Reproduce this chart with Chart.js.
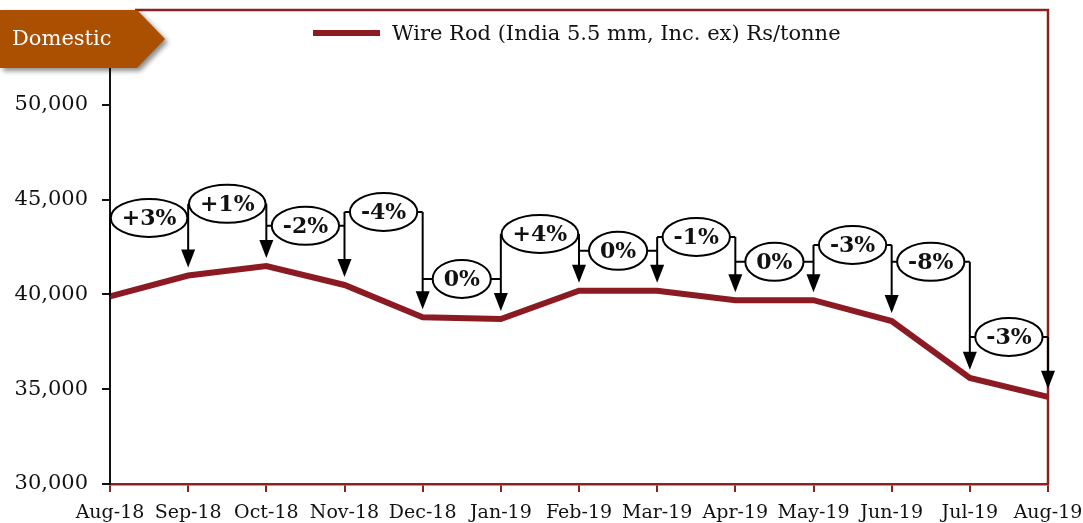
<!DOCTYPE html>
<html>
<head>
    <title>Wire Rod Domestic Prices</title>
    <script src="https://cdn.jsdelivr.net/npm/chart.js"></script>
    <style>
        html, body { margin: 0; padding: 0; background: #fff; }
        #wrap { width: 1083px; height: 523px; }
    </style>
</head>
<body>
    <div id="wrap"><canvas id="myChart"></canvas></div>
    <script>
        const months = ['Aug-18', 'Sep-18', 'Oct-18', 'Nov-18', 'Dec-18', 'Jan-19', 'Feb-19',
                        'Mar-19', 'Apr-19', 'May-19', 'Jun-19', 'Jul-19', 'Aug-19'];
        const wireRod = [39900, 41000, 41500, 40500, 38800, 38700, 40200,
                         40200, 39700, 39700, 38600, 35600, 34600];
        const changeLabels = ['+3%', '+1%', '-2%', '-4%', '0%', '+4%', '0%', '-1%', '0%', '-3%', '-8%', '-3%'];
        // height (in Rs/tonne) at which each change bubble sits
        const bubbleLevels = [44040, 44780, 43620, 44350, 40820, 43190, 42300, 43030, 41720, 42610, 41720, 37760];
        const yTicks = [30000, 35000, 40000, 45000, 50000];

        const lineColor = '#8b1a22';
        const frameColor = '#8b2222';
        const serif = '"DejaVu Serif", Georgia, serif';

        // frame, tab, legend and the change callouts
        const decorations = {
            id: 'decorations',
            beforeDatasetsDraw(chart) {
                const ctx = chart.ctx;
                const x = chart.scales.x, y = chart.scales.y;
                ctx.save();
                ctx.strokeStyle = frameColor;
                ctx.lineWidth = 2.5;
                ctx.beginPath();
                ctx.moveTo(135, 10);
                ctx.lineTo(x.right, 10);
                ctx.lineTo(x.right, y.bottom);
                ctx.stroke();
                ctx.restore();
            },
            afterDatasetsDraw(chart) {
                const ctx = chart.ctx;
                const x = chart.scales.x, y = chart.scales.y;
                ctx.save();

                // callout connectors
                ctx.strokeStyle = '#000';
                ctx.fillStyle = '#000';
                ctx.lineWidth = 2;
                for (let j = 0; j < wireRod.length; j++) {
                    const px = x.getPixelForValue(j);
                    const levels = [];
                    if (j > 0) levels.push(y.getPixelForValue(bubbleLevels[j - 1]));
                    if (j < bubbleLevels.length) levels.push(y.getPixelForValue(bubbleLevels[j]));
                    const top = Math.min(...levels);
                    const py = y.getPixelForValue(wireRod[j]);
                    if (j === 0) {
                        ctx.beginPath();
                        ctx.moveTo(px, top);
                        ctx.lineTo(px, py);
                        ctx.stroke();
                        continue;
                    }
                    const tip = py - 8;
                    ctx.beginPath();
                    ctx.moveTo(px, top);
                    ctx.lineTo(px, tip - 16);
                    ctx.stroke();
                    ctx.beginPath();
                    ctx.moveTo(px - 7, tip - 18);
                    ctx.lineTo(px + 7, tip - 18);
                    ctx.lineTo(px, tip);
                    ctx.closePath();
                    ctx.fill();
                }

                // bubbles
                ctx.font = 'bold 22px ' + serif;
                ctx.textAlign = 'center';
                ctx.textBaseline = 'middle';
                changeLabels.forEach((lab, i) => {
                    const xa = x.getPixelForValue(i), xb = x.getPixelForValue(i + 1);
                    const cx = (xa + xb) / 2;
                    const cy = y.getPixelForValue(bubbleLevels[i]);
                    const rx = ctx.measureText(lab).width / 2 + 11;
                    const ry = 19;
                    ctx.strokeStyle = '#000';
                    ctx.lineWidth = 2;
                    ctx.beginPath();
                    ctx.moveTo(xa, cy);
                    ctx.lineTo(cx - rx, cy);
                    ctx.moveTo(cx + rx, cy);
                    ctx.lineTo(xb, cy);
                    ctx.stroke();
                    ctx.beginPath();
                    ctx.ellipse(cx, cy, rx, ry, 0, 0, Math.PI * 2);
                    ctx.fillStyle = '#fff';
                    ctx.fill();
                    ctx.stroke();
                    ctx.fillStyle = '#111';
                    ctx.fillText(lab, cx, cy + 1);
                });
                ctx.restore();
            },
            afterDraw(chart) {
                const ctx = chart.ctx;
                ctx.save();
                // Domestic tab
                ctx.shadowColor = 'rgba(0,0,0,0.45)';
                ctx.shadowBlur = 5;
                ctx.shadowOffsetX = 3;
                ctx.shadowOffsetY = 3;
                ctx.fillStyle = '#aa5000';
                ctx.beginPath();
                ctx.moveTo(0, 10);
                ctx.lineTo(137, 10);
                ctx.lineTo(165, 39);
                ctx.lineTo(137, 68);
                ctx.lineTo(0, 68);
                ctx.closePath();
                ctx.fill();
                ctx.shadowColor = 'transparent';
                ctx.fillStyle = '#fff';
                ctx.font = '21px ' + serif;
                ctx.textBaseline = 'middle';
                ctx.fillText('Domestic', 12, 40);

                // legend
                const ds = chart.data.datasets[0];
                ctx.strokeStyle = ds.borderColor;
                ctx.lineWidth = 6;
                ctx.beginPath();
                ctx.moveTo(313, 33);
                ctx.lineTo(380, 33);
                ctx.stroke();
                ctx.fillStyle = '#111';
                ctx.font = '21px ' + serif;
                ctx.fillText(ds.label, 392, 35);
                ctx.restore();
            }
        };

        const ctx = document.getElementById('myChart').getContext('2d');
        const myChart = new Chart(ctx, {
            type: 'line',
            data: {
                labels: months,
                datasets: [{
                    label: 'Wire Rod (India 5.5 mm, Inc. ex) Rs/tonne',
                    data: wireRod,
                    borderColor: lineColor,
                    borderWidth: 6,
                    pointRadius: 0,
                    tension: 0,
                    fill: false
                }]
            },
            options: {
                responsive: true,
                maintainAspectRatio: false,
                animation: false,
                layout: { padding: { top: 67, right: 35, left: 0, bottom: 0 } },
                plugins: {
                    legend: { display: false },
                    tooltip: { enabled: false }
                },
                scales: {
                    x: {
                        type: 'category',
                        offset: false,
                        border: { color: frameColor, width: 2.5 },
                        grid: { drawOnChartArea: false, drawTicks: true, tickLength: 8, color: frameColor, lineWidth: 2 },
                        ticks: {
                            color: '#111',
                            font: { family: serif, size: 19 },
                            padding: 10,
                            maxRotation: 0,
                            autoSkip: false
                        },
                        afterFit(scale) {
                            scale.height = 39;
                            scale.paddingLeft = 0;
                            scale.paddingRight = 0;
                        }
                    },
                    y: {
                        min: 30000,
                        max: 52000,
                        border: { color: '#111', width: 2 },
                        grid: { drawOnChartArea: false, drawTicks: true, tickLength: 8, color: '#111', lineWidth: 2 },
                        ticks: {
                            stepSize: 5000,
                            color: '#111',
                            padding: 14,
                            font: { family: serif, size: 21 },
                            callback: v => v.toLocaleString('en-US')
                        },
                        afterBuildTicks(scale) {
                            scale.ticks = yTicks.map(v => ({ value: v }));
                        },
                        afterFit(scale) { scale.width = 110; }
                    }
                }
            },
            plugins: [decorations]
        });
    </script>
</body>
</html>
